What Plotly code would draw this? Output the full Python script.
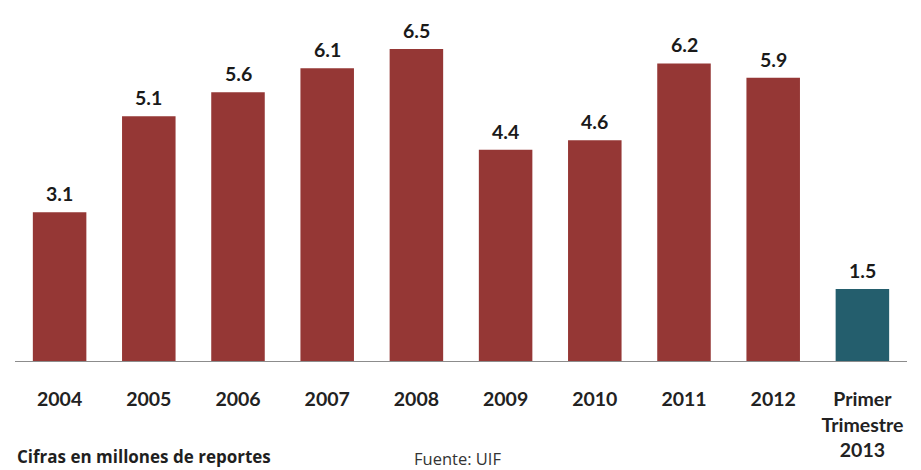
import plotly.graph_objects as go

# Reportes recibidos por año (millones)
categories = ["2004", "2005", "2006", "2007", "2008", "2009", "2010", "2011", "2012",
              "Primer<br>Trimestre<br>2013"]
values = [3.1, 5.1, 5.6, 6.1, 6.5, 4.4, 4.6, 6.2, 5.9, 1.5]
value_labels = ["3.1", "5.1", "5.6", "6.1", "6.5", "4.4", "4.6", "6.2", "5.9", "1.5"]

RED = "#953735"
TEAL = "#245E6D"
colors = [RED] * 9 + [TEAL]

W, H = 921, 470
ML, MR, MT, MB = 15, 14, 10, 109
plot_h = H - MT - MB
plot_w = W - ML - MR
base_y = H - MB  # pixel row of the category axis

xs = list(range(len(categories)))

fig = go.Figure(
    go.Bar(
        x=xs,
        y=values,
        marker=dict(color=colors, line=dict(width=0)),
        width=0.6,
        hoverinfo="x+y",
    )
)

# value labels above each bar
value_annotations = [
    dict(
        x=x, y=v, text=t,
        xref="x", yref="y",
        xanchor="center", yanchor="bottom",
        yshift=5,
        showarrow=False,
        font=dict(family="Lato", size=19.5, color="#1a1a1a", weight="bold"),
    )
    for x, v, t in zip(xs, values, value_labels)
]

footer_annotations = [
    dict(
        text="Cifras en millones de reportes",
        xref="paper", yref="paper",
        x=(15 - ML) / plot_w, y=-(469.5 - base_y) / plot_h,
        xanchor="left", yanchor="bottom",
        showarrow=False,
        font=dict(family="Open Sans", size=17, color="#1f1f1f", weight="bold"),
    ),
    dict(
        text="Fuente: UIF",
        xref="paper", yref="paper",
        x=(412 - ML) / plot_w, y=-(458.5 - base_y) / plot_h,
        xanchor="left", yanchor="middle",
        showarrow=False,
        font=dict(family="Open Sans", size=16.5, color="#333333"),
    ),
]

fig.update_layout(
    width=W,
    height=H,
    margin=dict(l=ML, r=MR, t=MT, b=MB),
    paper_bgcolor="white",
    plot_bgcolor="white",
    showlegend=False,
    xaxis=dict(
        tickmode="array",
        tickvals=xs,
        ticktext=categories,
        range=[-0.5, len(categories) - 0.5],
        showline=True,
        linecolor="#8c8c8c",
        linewidth=1,
        showgrid=False,
        zeroline=False,
        ticks="",
        ticklabelstandoff=21,
        tickfont=dict(family="Lato", size=19.5, color="#222222", weight="bold"),
    ),
    yaxis=dict(
        range=[0, plot_h / 48.0],
        visible=False,
        showgrid=False,
        zeroline=False,
    ),
    annotations=value_annotations + footer_annotations,
)

fig.write_html("out.html")
